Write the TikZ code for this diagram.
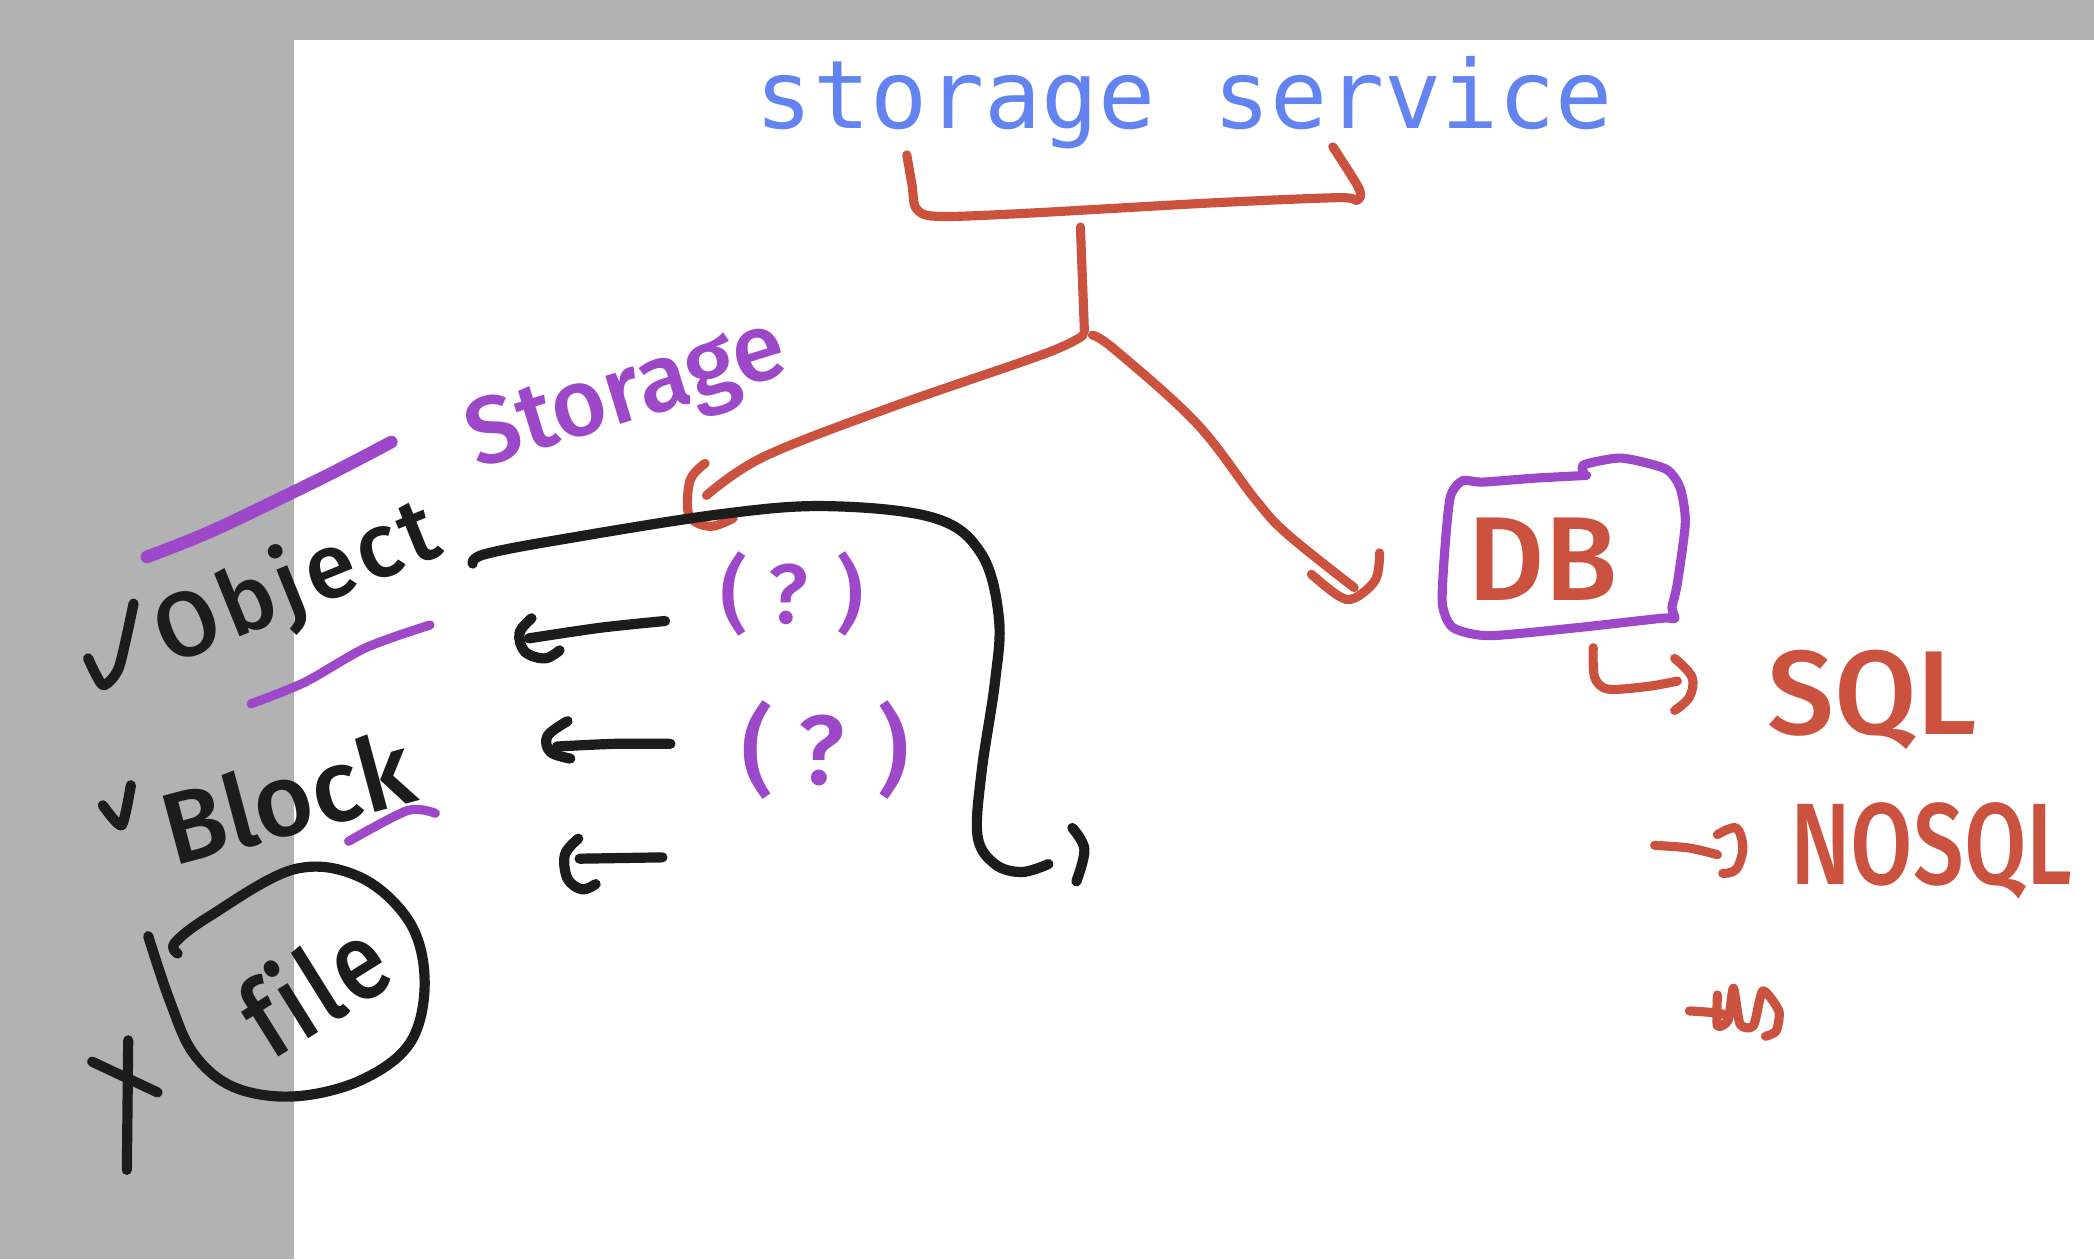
\documentclass[tikz,border=0pt]{standalone}
\usepackage{fontspec}
\newfontfamily\handfont{Fira Sans}[UprightFont=* Medium, BoldFont=* SemiBold]
\newfontfamily\codefont{DejaVu Sans Mono}
\definecolor{bgray}{RGB}{178,178,178}
\definecolor{inkblack}{RGB}{28,28,28}
\definecolor{inkred}{RGB}{204,82,64}
\definecolor{inkpurple}{RGB}{156,72,200}
\definecolor{inkblue}{RGB}{98,131,240}
\tikzset{
  ink/.style={line width=2.6pt, line cap=round, line join=round},
  blackink/.style={ink, draw=inkblack, line width=2.9pt},
  redink/.style={ink, draw=inkred},
  purpleink/.style={ink, draw=inkpurple},
  hl/.style={ink, draw=inkpurple, line width=3.6pt},
  handtext/.style={inner sep=0pt},
}
\newcommand{\ks}{\kern1.5pt}
\begin{document}
\begin{tikzpicture}[x=0.01335cm,y=-0.01335cm]
\useasboundingbox (0,0) rectangle (1568,943);
\fill[bgray] (0,0) rectangle (1568,943);
\fill[white] (220,30) rectangle (1568,943);

% title
\node[inner sep=0pt, anchor=base, text=inkblue, font=\codefont\fontsize{27}{30}\selectfont] (title) at (887,96) {storage service};

% red bracket and tree
\draw[redink] plot[smooth, tension=0.5] coordinates {(679,116) (683,139) (686,156) (701,162) (763,160) (906,152) (1002,148) (1016,150) (1018,142) (1002,116) (998,110)};
\draw[redink] (809,170) -- (812,248);
\draw[redink] plot[smooth, tension=0.6] coordinates {(811,251) (782,265) (667,305) (572,342) (529,371)};
\draw[redink] plot[smooth, tension=0.6] coordinates {(818,251) (835,262) (896,317) (940,374) (964,400) (1014,440)};
\draw[redink] plot[smooth, tension=0.6] coordinates {(982,430) (1002,446) (1014,448) (1030,434) (1033,414)};
% red hook under "Storage"
\draw[redink] plot[smooth, tension=0.6] coordinates {(528,347) (517,359) (515,382) (521,391) (534,394) (549,388)};

% Storage (purple)
\node[handtext, text=inkpurple, rotate=17, font=\handfont\fontsize{27}{30}\selectfont] (storage) at (470,298) {Storage};

% big black curve
\draw[blackink] plot[smooth, tension=0.6] coordinates {(354,422) (363,415) (420,404) (540,385) (620,379) (700,388) (735,415) (748,463) (745,511) (735,578) (732,626) (745,647) (765,653) (785,647)};
\draw[blackink] plot[smooth, tension=0.6] coordinates {(803,620) (812,636) (806,660)};

% Object
\draw[blackink] plot[smooth, tension=0.4] coordinates {(66,493) (77,513) (89,500) (100,452)};
\node[handtext, text=inkblack, rotate=22, font=\handfont\fontsize{26}{30}\selectfont] (object) at (223,438) {O\ks b\ks j\ks e\ks c\ks t};
\draw[hl] plot[smooth, tension=0.5] coordinates {(110,417) (160,397) (243,357) (293,331)};
\draw[purpleink] plot[smooth, tension=0.5] coordinates {(188,527) (228,511) (274,485) (322,468)};

% Block
\draw[blackink] plot[smooth, tension=0.4] coordinates {(77,603) (91,618) (98,588)};
\node[handtext, text=inkblack, rotate=15, font=\handfont\fontsize{29}{32}\selectfont] (block) at (215,597) {Block};
\draw[purpleink] plot[smooth, tension=0.5] coordinates {(261,630) (305,607) (326,609)};

% file
\draw[blackink] (96,779) -- (95,876);
\draw[blackink] (69,795) -- (118,818);
\draw[blackink] plot[smooth, tension=0.6] coordinates {(133,714) (131,706) (157,686) (220,651) (270,657) (307,691) (318,736) (307,781) (270,809) (220,821) (175,814) (145,789) (127,749) (111,701)};
\node[handtext, text=inkblack, rotate=32, xscale=0.85, font=\handfont\fontsize{31}{36}\selectfont] (file) at (234,738) {f\ks i\ks l\ks e};

% arrows
\draw[blackink] plot[smooth, tension=0.5] coordinates {(498,465) (450,470) (396,478)};
\draw[blackink] plot[smooth, tension=0.6] coordinates {(398,463) (389,474) (393,488) (408,493) (419,487)};
\draw[blackink] plot[smooth, tension=0.5] coordinates {(502,557) (460,557) (417,559)};
\draw[blackink] plot[smooth, tension=0.6] coordinates {(425,540) (410,551) (412,563) (427,568)};
\draw[blackink] (496,642) -- (434,643);
\draw[blackink] plot[smooth, tension=0.6] coordinates {(433,628) (423,640) (425,658) (436,666) (446,662)};

% question marks
\node[handtext, text=inkpurple, font=\handfont\fontsize{24}{26}\selectfont] (q1) at (593,445) {( ? )};
\node[handtext, text=inkpurple, font=\handfont\fontsize{28}{30}\selectfont] (q2) at (618,562) {( ? )};

% DB box
\draw[purpleink] plot[smooth, tension=0.4] coordinates {(1188,356) (1150,358) (1110,361) (1095,360) (1086,372) (1082,410) (1080,452) (1088,470) (1115,476) (1181,470) (1244,463) (1254,463) (1252,455) (1256,437) (1262,391) (1258,365) (1247,351) (1214,343) (1186,348) (1186,354)};
\node[handtext, text=inkred, anchor=base, font=\handfont\fontsize{34}{37}\selectfont] (db) at (1155,450) {DB};

% SQL
\draw[redink] plot[smooth, tension=0.5] coordinates {(1193,485) (1194,507) (1204,516) (1234,514) (1256,510)};
\draw[redink] plot[smooth, tension=0.6] coordinates {(1254,493) (1267,507) (1265,522) (1254,532)};
\node[handtext, text=inkred, anchor=base, font=\handfont\fontsize{34}{37}\selectfont] (sql) at (1402,550) {SQL};

% NOSQL
\draw[redink] plot[smooth, tension=0.5] coordinates {(1239,633) (1265,635) (1286,640)};
\draw[redink] plot[smooth, tension=0.6] coordinates {(1286,625) (1300,620) (1305,635) (1300,651) (1290,654)};
\node[handtext, text=inkred, anchor=base west, xscale=0.78, font=\handfont\fontsize{33}{36}\selectfont] (nosql) at (1340,662) {NOSQL};

% scribble
\draw[redink] plot[smooth, tension=0.4] coordinates {(1265,757) (1280,758) (1294,760)};
\draw[redink] plot[smooth, tension=0.4] coordinates {(1286,745) (1286,768) (1294,764) (1298,740) (1303,767) (1313,768) (1320,742) (1332,757) (1330,772) (1322,776)};
\end{tikzpicture}
\end{document}
